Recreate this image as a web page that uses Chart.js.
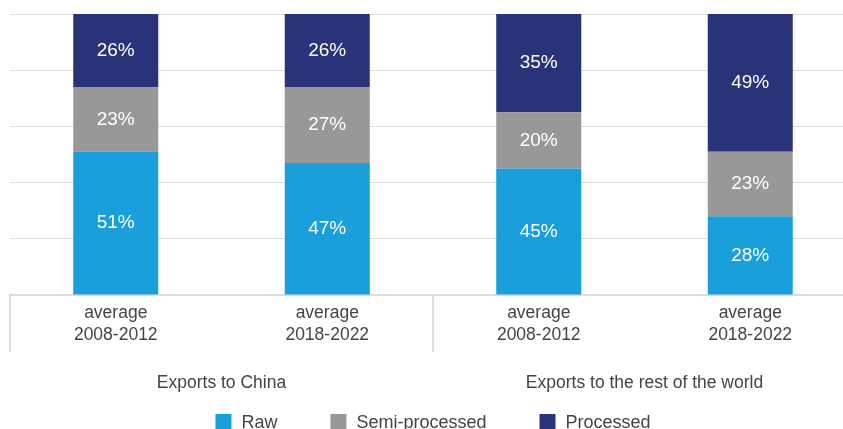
<!DOCTYPE html>
<html>
<head>
<meta charset="utf-8">
<script src="https://cdn.jsdelivr.net/npm/chart.js@4/dist/chart.umd.min.js"></script>
<style>
	html, body { margin: 0; padding: 0; background: #fff; overflow: hidden; }
	#wrap { width: 843px; height: 429px; overflow: hidden; }
	canvas { display: block; }
</style>
</head>
<body>
<div id="wrap"><canvas id="chart" width="866" height="429"></canvas></div>
<script>
const categories = [
	['average', '2008-2012'],
	['average', '2018-2022'],
	['average', '2008-2012'],
	['average', '2018-2022']
];
const groups = ['Exports to China', 'Exports to the rest of the world'];
const raw_values = [51, 47, 45, 28];
const semi_values = [23, 27, 20, 23];
const processed_values = [26, 26, 35, 49];

const text_color = '#444444';
const line_color = '#dcdcdc';
const font_family = '"Liberation Sans", Arial, Helvetica, sans-serif';

// Writes the percentage in the middle of every bar segment
const segment_labels = {
	id: 'segmentLabels',
	afterDatasetsDraw (chart) {
		const c = chart.ctx;
		c.save ();
		c.fillStyle = '#ffffff';
		c.font = `19px ${font_family}`;
		c.textAlign = 'center';
		c.textBaseline = 'middle';
		chart.data.datasets.forEach ((ds, i) => {
			chart.getDatasetMeta (i).data.forEach ((bar, j) => {
				const {x, y, base} = bar.getProps (['x', 'y', 'base'], true);
				c.fillText (`${ds.data[j]}%`, x, (y + base) / 2);
			});
		});
		c.restore ();
	}
};

// Legend drawn by hand, the built-in one can't space its items this wide
const bottom_legend = {
	id: 'bottomLegend',
	afterDraw (chart) {
		const c = chart.ctx;
		const box = 16, gap = 10, spacing = 53;
		c.save ();
		c.font = `18px ${font_family}`;
		c.textBaseline = 'middle';
		const items = chart.data.datasets.map (ds => ({label: ds.label, color: ds.backgroundColor, w: c.measureText (ds.label).width}));
		const total = items.reduce ((a, it) => a + box + gap + it.w, 0) + spacing * (items.length - 1);
		let x = chart.width / 2 - total / 2;
		const top = 414;
		items.forEach (it => {
			c.fillStyle = it.color;
			c.fillRect (x, top, box, box);
			c.fillStyle = text_color;
			c.fillText (it.label, x + box + gap, top + box / 2 + 1);
			x += box + gap + it.w + spacing;
		});
		c.restore ();
	}
};

new Chart (document.getElementById ('chart'), {
	type: 'bar',
	data: {
		labels: categories,
		datasets: [
			{label: 'Raw', data: raw_values, backgroundColor: '#1a9fdb'},
			{label: 'Semi-processed', data: semi_values, backgroundColor: '#999798'},
			{label: 'Processed', data: processed_values, backgroundColor: '#283477'}
		]
	},
	options: {
		responsive: false,
		animation: false,
		devicePixelRatio: 1,
		layout: {padding: {left: 10, right: 10, top: 14, bottom: 37}},
		datasets: {bar: {categoryPercentage: 1, barPercentage: 0.402}},
		plugins: {
			legend: {display: false},
			tooltip: {enabled: false}
		},
		scales: {
			x: {
				stacked: true,
				grid: {
					offset: true,
					drawOnChartArea: false,
					drawTicks: true,
					tickLength: 57,
					lineWidth: 2,
					color: c => (c.index === 1 || c.index === 3) ? 'rgba(0,0,0,0)' : line_color
				},
				border: {display: true, color: line_color, width: 2},
				ticks: {
					color: text_color,
					padding: -50,
					maxRotation: 0,
					autoSkip: false,
					font: {family: font_family, size: 17.5, lineHeight: 1.257}
				},
				afterFit: scale => { scale.height = 57; }
			},
			x2: {
				type: 'category',
				position: 'bottom',
				labels: groups,
				offset: true,
				grid: {display: false},
				border: {display: false},
				ticks: {
					color: text_color,
					padding: 13,
					maxRotation: 0,
					font: {family: font_family, size: 17.5}
				},
				afterFit: scale => { scale.height = 40; }
			},
			y: {
				stacked: true,
				min: 0,
				max: 100,
				ticks: {display: false, stepSize: 20},
				border: {display: false},
				grid: {color: line_color, lineWidth: 1, drawTicks: false}
			}
		}
	},
	plugins: [segment_labels, bottom_legend]
});
</script>
</body>
</html>
